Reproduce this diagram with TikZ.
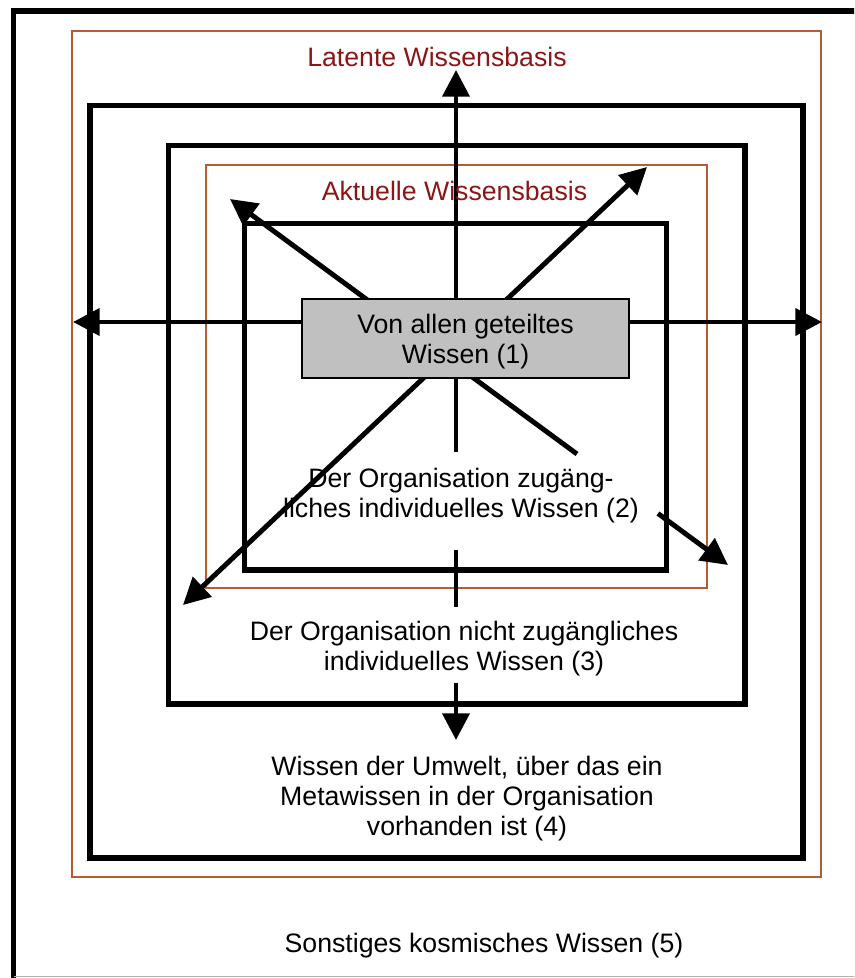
\documentclass[tikz,border=0pt]{standalone}
\usepackage{fontspec}
\setmainfont{Liberation Sans}
\usetikzlibrary{arrows.meta}

\definecolor{basisred}{RGB}{140,22,22}
\definecolor{basisline}{RGB}{185,90,50}
\definecolor{boxgray}{RGB}{192,192,192}

\begin{document}
\begin{tikzpicture}[x=0.75pt,y=-0.75pt,
  frame/.style={line width=3.9pt},
  basis/.style={draw=basisline, line width=1.3pt},
  flow/.style={line width=3.7pt},
  tip/.style={-{Triangle[length=20pt,width=20pt]}},
  bothtips/.style={{Triangle[length=20pt,width=20pt]}-{Triangle[length=20pt,width=20pt]}},
  label/.style={font=\fontsize{20}{22.5}\selectfont, align=center, inner sep=0pt, anchor=base},
  sharedbox/.style={draw, fill=boxgray, line width=1.1pt, inner sep=0pt,
                    minimum width=245.25pt, minimum height=59.25pt}]
\useasboundingbox (0,0) rectangle (854,978);
\clip (0,0) rectangle (854,978);

% outer frame of the whole knowledge universe
\draw[frame] (880,11) -- (13.5,11) -- (13.5,1000);
\draw[gray!60, line width=1.1pt] (13.5,976.5) -- (880,976.5);

% latent and current knowledge bases
\draw[basis] (72,31) rectangle (821,877);
\draw[basis] (206,165) rectangle (707,588);

% nested knowledge areas
\draw[frame] (90,105.5) rectangle (803,858);
\draw[frame] (168.5,145.5) rectangle (745,704);
\draw[frame] (244.5,223.5) rectangle (666.5,570);

% arrow tips and segment ends
\coordinate (tipN)  at (456,70);
\coordinate (tipS)  at (456,740);
\coordinate (tipW)  at (73,322);
\coordinate (tipE)  at (822,322);
\coordinate (tipNE) at (647,167);
\coordinate (tipSW) at (183,605);
\coordinate (tipNW) at (230,199);
\coordinate (tipSE) at (728,565);
\coordinate (gapA)  at (456,452);
\coordinate (gapB)  at (456,550);
\coordinate (gapC)  at (456,607);
\coordinate (gapD)  at (456,683);
\coordinate (gapE)  at (577,454);
\coordinate (gapF)  at (658,513.5);

% vertical axis
\draw[flow,tip] (gapA) -- (tipN);
\draw[flow] (gapB) -- (gapC);
\draw[flow,tip] (gapD) -- (tipS);
% horizontal axis
\draw[flow,bothtips] (tipW) -- (tipE);
% diagonals
\draw[flow,bothtips] (tipSW) -- (tipNE);
\draw[flow,tip] (gapE) -- (tipNW);
\draw[flow,tip] (gapF) -- (tipSE);

% shared knowledge in the centre
\node[sharedbox] (shared) at (465.5,338.5) {};

% labels (base anchor = baseline of the last line)
\node[label, text=basisred] (latent) at (437,66.7) {Latente Wissensbasis};
\node[label, text=basisred] (actual) at (454.5,200) {Aktuelle Wissensbasis};
\node[label] (sharedtext) at (465.5,363) {Von allen geteiltes\\Wissen (1)};
\node[label] (access) at (461,517) {Der Organisation zugäng-\\liches individuelles Wissen (2)};
\node[label] (noaccess) at (464,670) {Der Organisation nicht zugängliches\\individuelles Wissen (3)};
\node[label] (meta) at (467,835) {Wissen der Umwelt, über das ein\\Metawissen in der Organisation\\vorhanden ist (4)};
\node[label] (cosmic) at (484,952) {Sonstiges kosmisches Wissen (5)};
\end{tikzpicture}
\end{document}
